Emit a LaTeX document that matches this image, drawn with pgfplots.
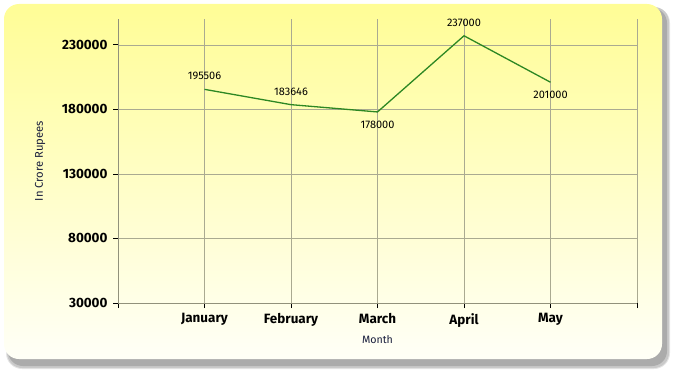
\documentclass[border=0pt]{standalone}
\usepackage{fontspec}
\setmainfont{Fira Sans}
\usepackage{pgfplots}
\pgfplotsset{compat=1.18}
\definecolor{bgtop}{RGB}{255,253,150}
\definecolor{bgbot}{RGB}{255,255,247}
\definecolor{linegreen}{RGB}{45,135,35}
\definecolor{gridc}{RGB}{170,170,145}
\definecolor{labc}{RGB}{25,30,60}
\begin{document}
\begin{tikzpicture}[x=1bp,y=1bp]
\useasboundingbox (0,0) rectangle (673,373);
% shadow
\fill[black, opacity=0.10, rounded corners=16bp] (6,4) rectangle (670,366);
\fill[black, opacity=0.12, rounded corners=15bp] (7,5) rectangle (669,366);
\fill[black, opacity=0.15, rounded corners=15bp] (8,7) rectangle (667,365);
% card
\shade[top color=bgtop, bottom color=bgbot, rounded corners=15bp] (4,14) rectangle (662,369);
\begin{axis}[
  at={(118bp,70bp)}, anchor=south west,
  scale only axis, width=519bp, height=284bp,
  xmin=-1, xmax=5, ymin=30000, ymax=250000,
  xtick={-1,0,1,2,3,4,5},
  xticklabels={{},January,February,March,April,May,{}},
  ytick={30000,80000,130000,180000,230000},
  scaled y ticks=false,
  /pgf/number format/.cd, fixed, 1000 sep={}, assume math mode=true,
  /pgfplots/.cd,
  grid=major,
  major grid style={gridc, line width=0.6pt},
  axis lines*=left,
  axis line style={gridc!85!black, line width=0.8pt},
  tick align=outside,
  major tick length=5bp,
  tick style={black, line width=0.8pt},
  yticklabel style={font=\fontsize{13.5}{15}\selectfont\bfseries, xshift=-2bp},
  xticklabel style={font=\fontsize{13.5}{15}\selectfont\bfseries, yshift=-2bp},
  xlabel={Month}, ylabel={In Crore Rupees},
  xlabel style={font=\fontsize{10.7}{12}\selectfont, text=labc, anchor=center, at={(axis description cs:0.5,-0.13)}},
  ylabel style={font=\fontsize{11.3}{12}\selectfont, text=labc, anchor=center, at={(axis description cs:-0.150,0.5)}},
  clip=false,
]
\addplot[linegreen, line width=1.3bp, mark=none] coordinates {(0,195506) (1,183646) (2,178000) (3,237000) (4,201000)};
\addplot[draw=none, mark=none, forget plot, nodes near coords, point meta=explicit symbolic,
  every node near coord/.append style={font=\fontsize{11}{12}\selectfont, anchor=center, yshift=13bp}]
  coordinates {(0,195506) [195506] (1,183646) [183646] (3,237000) [237000]};
\addplot[draw=none, mark=none, forget plot, nodes near coords, point meta=explicit symbolic,
  every node near coord/.append style={font=\fontsize{11}{12}\selectfont, anchor=center, yshift=-13bp}]
  coordinates {(2,178000) [178000] (4,201000) [201000]};
\end{axis}
\end{tikzpicture}
\end{document}
